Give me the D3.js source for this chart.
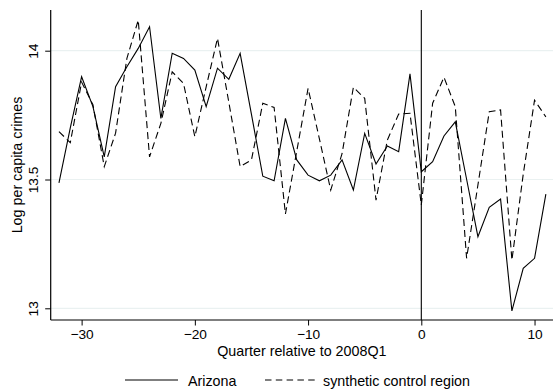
<!DOCTYPE html>
<html>
<head>
<meta charset="utf-8">
<script src="https://cdn.jsdelivr.net/npm/d3@7"></script>
<style>
  html, body { margin: 0; padding: 0; background: #fff; }
  svg { display: block; font-family: "Liberation Sans", Arial, Helvetica, sans-serif; }
</style>
</head>
<body>
<svg id="chart" width="553" height="390"></svg>
<script>
// Quarters relative to 2008Q1
const quarters = d3.range(-32, 12);

// Log per capita crimes, Arizona
const arizona = [
  13.487, 13.70, 13.899, 13.783, 13.588, 13.860, 13.938, 14.009, 14.093, 13.737,
  13.990, 13.970, 13.925, 13.783, 13.932, 13.889, 13.990, 13.753, 13.513, 13.495,
  13.737, 13.576, 13.517, 13.495, 13.517, 13.576, 13.459, 13.679, 13.560, 13.630,
  13.608, 13.910, 13.530, 13.569, 13.669, 13.724, 13.501, 13.278, 13.392, 13.424,
  12.990, 13.155, 13.194, 13.443
];

// Log per capita crimes, synthetic control region
const synthetic = [
  13.686, 13.643, 13.878, 13.790, 13.550, 13.680, 13.970, 14.119, 13.588, 13.718,
  13.918, 13.873, 13.666, 13.860, 14.048, 13.800, 13.550, 13.576, 13.796, 13.780,
  13.366, 13.610, 13.854, 13.658, 13.459, 13.600, 13.858, 13.815, 13.420, 13.653,
  13.754, 13.757, 13.401, 13.796, 13.897, 13.783, 13.194, 13.479, 13.763, 13.770,
  13.187, 13.520, 13.808, 13.743
];

const xTicks = [-30, -20, -10, 0, 10];
const yTicks = [13, 13.5, 14];
const seriesNames = ["Arizona", "synthetic control region"];
const xTitle = "Quarter relative to 2008Q1";
const yTitle = "Log per capita crimes";

const svg = d3.select("#chart");
const plot = { left: 50.7, right: 553, top: 10, bottom: 320 };
const tickFont = 13.7;
const titleFont = 14.3;

const x = d3.scaleLinear().domain([-32.73, 11.63]).range([plot.left, plot.right]);
const y = d3.scaleLinear().domain([12.9546, 14.158]).range([plot.bottom, plot.top]);

// horizontal grid
svg.append("g").selectAll("line").data(yTicks).join("line")
  .attr("x1", plot.left).attr("x2", plot.right)
  .attr("y1", d => y(d)).attr("y2", d => y(d))
  .attr("stroke", "#eaf1f1").attr("stroke-width", 1.2);

// x axis
const xAxis = svg.append("g")
  .attr("transform", `translate(0,${plot.bottom})`)
  .call(d3.axisBottom(x).tickValues(xTicks).tickSize(5.5).tickPadding(3.5)
        .tickFormat(d3.format("d")));
xAxis.select(".domain").remove();
xAxis.append("line").attr("x1", plot.left).attr("x2", plot.right)
  .attr("stroke", "#000").attr("stroke-width", 1.2);
xAxis.selectAll(".tick line").attr("stroke", "#000").attr("stroke-width", 1);
xAxis.selectAll(".tick text").attr("font-size", tickFont).attr("fill", "#000")
  .attr("font-family", "Liberation Sans, Arial, sans-serif");

// y axis
const yAxis = svg.append("g")
  .attr("transform", `translate(${plot.left},0)`)
  .call(d3.axisLeft(y).tickValues(yTicks).tickSize(5.5).tickFormat(d => String(d)));
yAxis.select(".domain").remove();
yAxis.append("line").attr("y1", plot.top).attr("y2", plot.bottom)
  .attr("stroke", "#000").attr("stroke-width", 1.2);
yAxis.selectAll(".tick line").attr("stroke", "#000").attr("stroke-width", 1);
yAxis.selectAll(".tick text")
  .attr("x", null).attr("dy", null)
  .attr("text-anchor", "middle")
  .attr("transform", "translate(-12.5,0) rotate(-90)")
  .attr("font-size", tickFont).attr("fill", "#000")
  .attr("font-family", "Liberation Sans, Arial, sans-serif");

// axis titles
svg.append("text")
  .attr("x", (plot.left + plot.right) / 2).attr("y", 355.5)
  .attr("text-anchor", "middle").attr("font-size", titleFont).attr("fill", "#000")
  .text(xTitle);
svg.append("text")
  .attr("transform", `translate(22,${(plot.top + plot.bottom) / 2}) rotate(-90)`)
  .attr("text-anchor", "middle").attr("font-size", titleFont).attr("fill", "#000")
  .text(yTitle);

// treatment start marker
svg.append("line")
  .attr("x1", x(0)).attr("x2", x(0))
  .attr("y1", plot.top).attr("y2", plot.bottom)
  .attr("stroke", "#000").attr("stroke-width", 1.1);

// series
const line = d3.line().x((d, i) => x(quarters[i])).y(d => y(d));
svg.append("path").datum(synthetic)
  .attr("d", line).attr("fill", "none")
  .attr("stroke", "#000").attr("stroke-width", 1.1)
  .attr("stroke-dasharray", "7,4");
svg.append("path").datum(arizona)
  .attr("d", line).attr("fill", "none")
  .attr("stroke", "#000").attr("stroke-width", 1.1);

// legend
const legendY = 380;
const legend = svg.append("g");
legend.append("line").attr("x1", 125).attr("x2", 178).attr("y1", legendY).attr("y2", legendY)
  .attr("stroke", "#000").attr("stroke-width", 1.1);
legend.append("text").attr("x", 188).attr("y", legendY + 5.5)
  .attr("font-size", titleFont).attr("fill", "#000").text(seriesNames[0]);
legend.append("line").attr("x1", 265).attr("x2", 315).attr("y1", legendY).attr("y2", legendY)
  .attr("stroke", "#000").attr("stroke-width", 1.1).attr("stroke-dasharray", "6.5,4.3");
legend.append("text").attr("x", 323).attr("y", legendY + 5.5)
  .attr("font-size", titleFont).attr("fill", "#000").text(seriesNames[1]);
</script>
</body>
</html>
